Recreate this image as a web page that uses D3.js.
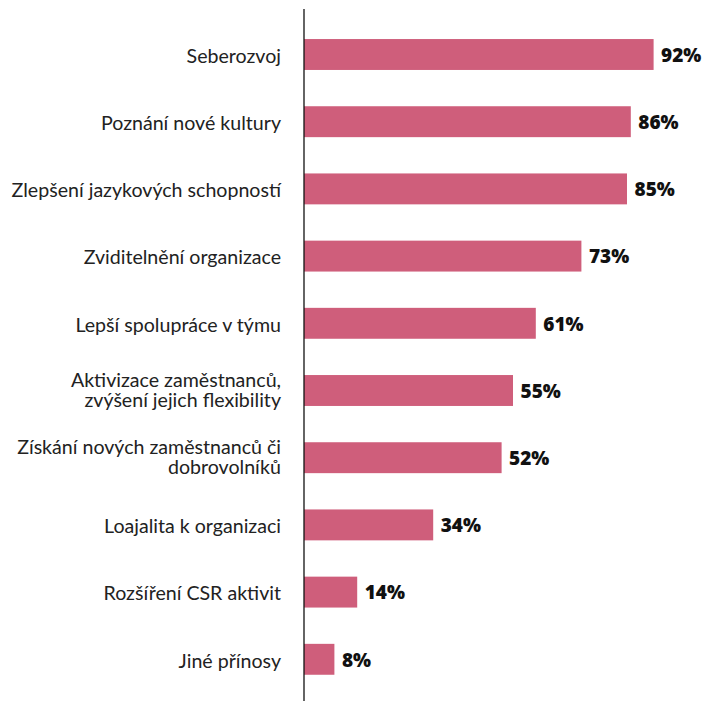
<!DOCTYPE html>
<html>
<head>
<meta charset="utf-8">
<script src="https://cdn.jsdelivr.net/npm/d3@7/dist/d3.min.js"></script>
<style>
  html, body { margin: 0; padding: 0; background: #fff; }
  svg { display: block; }
</style>
</head>
<body>
<svg id="chart" width="707" height="701"></svg>
<script>
// Přínosy zahraničních aktivit – podíl odpovědí (%)
const categories = [
  ["Seberozvoj"],
  ["Poznání nové kultury"],
  ["Zlepšení jazykových schopností"],
  ["Zviditelnění organizace"],
  ["Lepší spolupráce v týmu"],
  ["Aktivizace zaměstnanců,", "zvýšení jejich flexibility"],
  ["Získání nových zaměstnanců či", "dobrovolníků"],
  ["Loajalita k organizaci"],
  ["Rozšíření CSR aktivit"],
  ["Jiné přínosy"]
];
const values = [92, 86, 85, 73, 61, 55, 52, 34, 14, 8];

const svg = d3.select("#chart");
const axisX = 304;
const barColor = "#cf5e7b";

const x = d3.scaleLinear().domain([0, 100]).range([axisX, axisX + 380]);
const y = d3.scaleBand()
  .domain(d3.range(categories.length))
  .range([20.9, 692.9])
  .paddingInner(0.54)
  .paddingOuter(0.27);

// bars
svg.append("g").selectAll("rect")
  .data(values)
  .join("rect")
  .attr("x", x(0))
  .attr("y", (d, i) => y(i))
  .attr("width", d => x(d) - x(0))
  .attr("height", y.bandwidth())
  .attr("fill", barColor);

// value labels
svg.append("g").selectAll("text")
  .data(values)
  .join("text")
  .attr("x", d => x(d) + 7.5)
  .attr("y", (d, i) => y(i) + y.bandwidth() / 2)
  .attr("dy", "0.38em")
  .attr("font-family", "'Open Sans', sans-serif")
  .attr("font-weight", 800)
  .attr("font-size", 19)
  .attr("fill", "#111")
  .text(d => d + "%");

// category labels
const labels = svg.append("g").selectAll("text")
  .data(categories)
  .join("text")
  .attr("text-anchor", "end")
  .attr("font-family", "Lato, sans-serif")
  .attr("font-size", 19.6)
  .attr("fill", "#222")
  .attr("transform", (d, i) => `translate(${axisX - 23},${y(i) + y.bandwidth() / 2})`);

labels.each(function(lines) {
  const t = d3.select(this);
  const lh = 20;
  lines.forEach((line, k) => {
    t.append("tspan")
      .attr("x", 0)
      .attr("y", (k - (lines.length - 1) / 2) * lh)
      .attr("dy", lines.length > 1 ? "0.33em" : "0.42em")
      .text(line);
  });
});

// vertical axis line
svg.append("line")
  .attr("x1", axisX).attr("x2", axisX)
  .attr("y1", 9).attr("y2", 701)
  .attr("stroke", "#111")
  .attr("stroke-width", 1.3);
</script>
</body>
</html>
